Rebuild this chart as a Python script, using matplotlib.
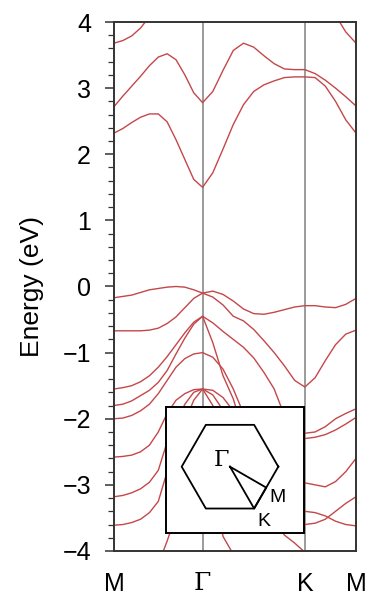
import numpy as np
import matplotlib
matplotlib.use("Agg")
import matplotlib.pyplot as plt
from matplotlib.ticker import MultipleLocator

plt.rcParams['font.family'] = ['Liberation Sans', 'DejaVu Sans']

nan = np.nan

# path M - G - K - M through the hexagonal zone (|GM| = 1/2)
gm = 0.5
gk = 1 / np.sqrt(3)
km = 1 / (2 * np.sqrt(3))
k = np.concatenate([np.linspace(0, gm, 11),
                    gm + np.linspace(0, gk, 11)[1:],
                    gm + gk + np.linspace(0, km, 6)[1:]])
k_ticks = [0, gm, gm + gk, gm + gk + km]
k_labels = ['M', 'Γ', 'K', 'M']

# band energies (eV) at the 26 k points, nan where the band is not seen
c3 = [3.68, 3.72, 3.79, 3.91, 4.08] + [nan] * 17 + [4.35, 4.10, 3.85, 3.68]
c2 = [2.72, 2.88, 3.03, 3.18, 3.34, 3.47, 3.52, 3.43, 3.20, 2.93, 2.78,
      2.95, 3.27, 3.57, 3.68, 3.62, 3.49, 3.37, 3.29, 3.28, 3.28,
      3.22, 3.12, 3.00, 2.87, 2.73]
c1 = [2.32, 2.39, 2.48, 2.56, 2.61, 2.61, 2.49, 2.22, 1.92, 1.62, 1.50,
      1.72, 2.08, 2.45, 2.75, 2.95, 3.05, 3.11, 3.16, 3.17, 3.17,
      3.16, 3.03, 2.80, 2.52, 2.32]
v1 = [-0.17, -0.15, -0.13, -0.09, -0.05, -0.03, -0.01, 0.00, -0.01, -0.05, -0.10,
      -0.07, -0.12, -0.22, -0.34, -0.41, -0.42, -0.39, -0.35, -0.31, -0.29,
      -0.29, -0.31, -0.32, -0.27, -0.18]
v2 = [-0.67, -0.67, -0.67, -0.67, -0.66, -0.63, -0.56, -0.46, -0.32, -0.18, -0.10,
      -0.16, -0.28, -0.45, -0.52, -0.65, -0.82, -1.00, -1.20, -1.42, -1.52,
      -1.38, -1.12, -0.88, -0.72, -0.66]
v3 = [-1.55, -1.53, -1.50, -1.44, -1.35, -1.22, -1.06, -0.88, -0.70, -0.54, -0.45,
      -0.85, -1.35, -1.70, -2.20] + [nan] * 11
v4 = [-1.80, -1.78, -1.73, -1.65, -1.57, -1.45, -1.27, -1.02, -0.78, -0.57, -0.45,
      -0.55, -0.68, -0.80, -0.92, -1.08, -1.30, -1.55, -1.95] + [nan] * 7
v5 = [-2.00, -1.99, -1.95, -1.88, -1.78, -1.62, -1.42, -1.22, -1.09, -1.02, -1.00,
      -1.07, -1.25, -1.55, -1.92] + [nan] * 11
la = [-2.58, -2.57, -2.55, -2.50, -2.40, -2.20, -1.92, -1.72, -1.62, -1.56, -1.55,
      -1.57, -1.68, -1.88] + [nan] * 12
lb = [-3.18, -3.16, -3.12, -3.06, -2.96, -2.78, -2.35, -2.05, -1.78, -1.60, -1.55,
      -1.64, -1.87] + [nan] * 13
lc = [-3.61, -3.60, -3.57, -3.52, -3.42, -3.25, -2.80, -2.40, -2.05, -1.72, -1.55,
      -1.80, -2.30] + [nan] * 13
ld = [nan] * 5 + [-4.20, -3.85, -3.45, -2.95, -2.50, -2.30,
                  -3.00, -3.78, -4.05] + [nan] * 12
ra = [nan] * 19 + [-2.22, -2.22, -2.20, -2.12, -2.00, -1.92, -1.85]
rb = [nan] * 19 + [-2.32, -2.30, -2.28, -2.24, -2.17, -2.08, -1.98]
rc = [nan] * 19 + [-2.95, -2.97, -3.00, -3.03, -2.95, -2.80, -2.60]
rd = [nan] * 19 + [-3.62, -3.60, -3.58, -3.52, -3.40, -3.28, -3.18]
re_ = [nan] * 19 + [-3.40, -3.40, -3.42, -3.47, -3.55, -3.60, -3.62]
rf = [nan] * 17 + [-3.55, -3.76, -3.88, -4.02, -4.10] + [nan] * 4

bands = [c3, c2, c1, v1, v2, v3, v4, v5, la, lb, lc, ld, ra, rb, rc, rd, re_, rf]

fig = plt.figure(figsize=(3.71, 6.05), dpi=100)
ax = fig.add_axes([0.3073, 0.0893, 0.6523, 0.8743])

for x in k_ticks[1:3]:
    ax.axvline(x, color='#808080', lw=1.1, zorder=1)
for e in bands:
    ax.plot(k, e, color='#c4474a', lw=1.0, zorder=2, solid_joinstyle='round')

ax.set_xlim(k_ticks[0], k_ticks[-1])
ax.set_ylim(-4, 4)
ax.yaxis.set_major_locator(MultipleLocator(1))
ax.yaxis.set_minor_locator(MultipleLocator(0.2))
ax.set_xticks(k_ticks)
ax.set_xticklabels(k_labels)
ax.get_xticklabels()[1].set_family('DejaVu Serif')
ax.tick_params(axis='x', length=0, labelsize=18, pad=15)
ax.tick_params(axis='y', which='major', direction='out', length=6.5, width=1.1,
               labelsize=18, pad=10, color='#333333')
ax.tick_params(axis='y', which='minor', direction='out', length=4, width=0.9,
               color='#333333')
for s in ax.spines.values():
    s.set_linewidth(1.4)
    s.set_color('#333333')
ax.set_ylabel('Energy (eV)', fontsize=19)
ax.yaxis.set_label_coords(-0.29, 0.5)

# Brillouin-zone inset
ins = fig.add_axes([0.4474, 0.1190, 0.3720, 0.2083])
ins.set_facecolor('white')
ang = np.deg2rad(np.arange(0, 361, 60))
ins.plot(np.cos(ang), np.sin(ang), color='black', lw=1.3)
G = (0.0, 0.0)
K = (0.5, -np.sqrt(3) / 2)
M = (0.75, -np.sqrt(3) / 4)
ins.plot([G[0], M[0], K[0], G[0]], [G[1], M[1], K[1], G[1]], color='black', lw=1.3)
ins.text(-0.17, 0.14, 'Γ', fontsize=16, family='DejaVu Serif', ha='center', va='center')
ins.text(0.99, -0.64, 'M', fontsize=14, ha='center', va='center')
ins.text(0.70, -1.13, 'K', fontsize=14, ha='center', va='center')
ins.set_xlim(-1.325, 1.532)
ins.set_ylim(-1.373, 1.236)
ins.set_xticks([])
ins.set_yticks([])
for s in ins.spines.values():
    s.set_linewidth(1.4)

fig.savefig('out.png', dpi=100)
